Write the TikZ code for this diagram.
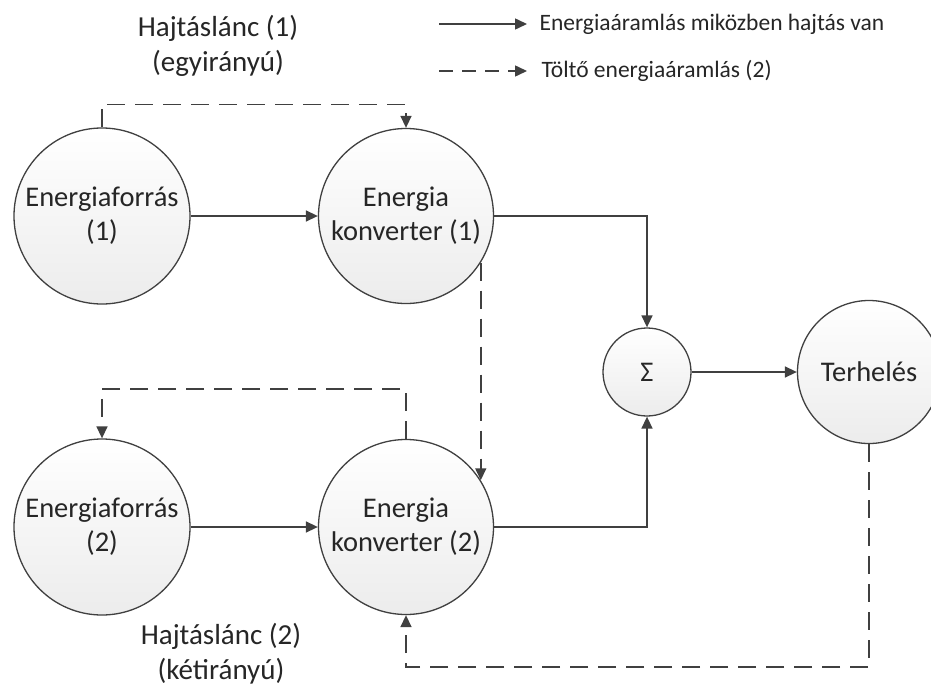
\documentclass[tikz,border=0pt]{standalone}
\usepackage{fontspec}
\setmainfont{Carlito}
\usetikzlibrary{arrows.meta}
\definecolor{ln}{HTML}{404040}
\definecolor{tx}{HTML}{262626}
\definecolor{shadebot}{HTML}{ECECEC}
\begin{document}
\begin{tikzpicture}[x=1pt,y=-1pt,
  unit/.style={circle, draw=ln, line width=1.3pt, top color=white, bottom color=shadebot,
    minimum size=#1, inner sep=0pt, align=center, text=tx,
    font=\fontsize{28.5}{34}\selectfont},
  flow/.style={draw=ln, line width=1.5pt, -{Triangle[length=12pt,width=11pt]}},
  charge/.style={flow, dash pattern=on 18pt off 10pt},
  lbl/.style={align=center, text=tx, font=\fontsize{29}{35}\selectfont},
  leg/.style={anchor=west, text=tx, font=\fontsize{23.5}{27}\selectfont}]

% canvas
\fill[white] (0,0) rectangle (931,690);
\useasboundingbox (0,0) rectangle (931,690);
\clip (0,0) rectangle (931,690);

% units
\node[unit=176pt] (ef1) at (102,216) {Energiaforrás\\(1)};
\node[unit=175pt] (ek1) at (406,216) {Energia\\konverter (1)};
\node[unit=176pt] (ef2) at (102,527) {Energiaforrás\\(2)};
\node[unit=175pt] (ek2) at (406,527) {Energia\\konverter (2)};
\node[unit=88pt]  (sum) at (647,372) {Σ};
\node[unit=143pt] (load) at (869,372) {Terhelés};

% drivetrain labels
\node[lbl] (dt1) at (218,46) {Hajtáslánc (1)\\(egyirányú)};
\node[lbl] (dt2) at (221,654) {Hajtáslánc (2)\\(kétirányú)};

% energy flow while driving
\draw[flow] (ef1) -- (ek1);
\draw[flow] (ef2) -- (ek2);
\draw[flow] (ek1.east) -| (sum.north);
\draw[flow] (ek2.east) -| (sum.south);
\draw[flow] (sum) -- (load);

% charging energy flow
\draw[charge] (ef1.north) -- ++(0,-23) -| (ek1.north);
\draw[charge] (ek1.-32) -- (ek2.32);
\draw[charge] (ek2.north) -- ++(0,-50) -| (ef2.north);
\draw[charge] (load.south) -- ++(0,223) -| (ek2.south);

% legend
\coordinate (l1a) at (439,24);
\coordinate (l1b) at (527,24);
\coordinate (l2a) at (439,71);
\coordinate (l2b) at (527,71);
\draw[flow] (l1a) -- (l1b);
\draw[charge, dash pattern=on 14pt off 9pt] (l2a) -- (l2b);
\node[leg] (t1) at (536,24) {Energiaáramlás miközben hajtás van};
\node[leg] (t2) at (538,71) {Töltő energiaáramlás (2)};
\end{tikzpicture}
\end{document}
